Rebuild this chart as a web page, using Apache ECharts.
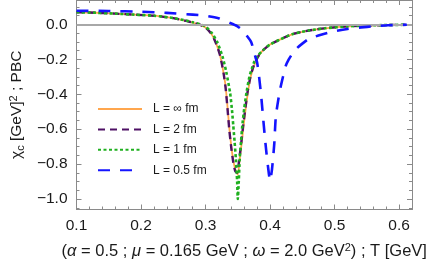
<!DOCTYPE html>
<html>
<head>
<meta charset="utf-8">
<script src="https://cdn.jsdelivr.net/npm/echarts@6/dist/echarts.min.js"></script>
<style>html,body{margin:0;padding:0;background:#fff}#c{width:436px;height:265px}</style>
</head>
<body>
<div id="c"></div>
<script>
var seriesNames = ['L = \u221e fm', 'L = 2 fm', 'L = 1 fm', 'L = 0.5 fm'];
var xTicks = [0.1, 0.2, 0.3, 0.4, 0.5, 0.6];
var yTicks = [-1.0, -0.8, -0.6, -0.4, -0.2, 0.0];
var yMinorTicks = [-1.05, -0.95, -0.9, -0.85, -0.75, -0.7, -0.65, -0.55, -0.5, -0.45, -0.35, -0.3, -0.25, -0.15, -0.1, -0.05, 0.05, 0.1];

var T_inf = [0.10,0.13,0.16,0.19,0.22,0.25,0.27,0.28,0.29,0.30,0.308,0.313,0.318,0.322,0.325,0.328,0.331,0.334,0.337,0.340,0.343,0.347,0.350,0.353,0.356,0.359,0.362,0.366,0.370,0.374,0.378,0.384,0.39,0.40,0.415,0.435,0.46,0.485,0.52,0.56,0.61];
var chi_inf = [0.070,0.067,0.062,0.056,0.050,0.036,0.020,0.011,0.000,-0.018,-0.049,-0.08,-0.125,-0.17,-0.22,-0.28,-0.35,-0.47,-0.60,-0.70,-0.78,-0.84,-0.86,-0.77,-0.68,-0.58,-0.49,-0.38,-0.30,-0.25,-0.21,-0.17,-0.145,-0.115,-0.087,-0.055,-0.035,-0.022,-0.011,-0.005,-0.002];

var T_2 = [0.10,0.13,0.16,0.19,0.22,0.25,0.27,0.28,0.29,0.30,0.308,0.313,0.318,0.322,0.325,0.328,0.331,0.334,0.337,0.340,0.343,0.346,0.349,0.352,0.355,0.358,0.361,0.365,0.369,0.373,0.377,0.383,0.39,0.40,0.415,0.435,0.46,0.485,0.52,0.56,0.61];
var chi_2 = [0.070,0.067,0.062,0.056,0.050,0.036,0.020,0.011,0.000,-0.018,-0.049,-0.08,-0.125,-0.17,-0.22,-0.28,-0.36,-0.48,-0.61,-0.71,-0.79,-0.84,-0.85,-0.78,-0.69,-0.59,-0.50,-0.39,-0.31,-0.255,-0.215,-0.175,-0.145,-0.115,-0.087,-0.055,-0.035,-0.022,-0.011,-0.005,-0.002];

var T_1 = [0.10,0.13,0.16,0.19,0.22,0.25,0.27,0.28,0.29,0.30,0.31,0.318,0.326,0.332,0.338,0.341,0.343,0.345,0.347,0.349,0.350,0.3515,0.353,0.355,0.357,0.360,0.3635,0.368,0.372,0.376,0.381,0.39,0.40,0.415,0.435,0.46,0.485,0.52,0.56,0.61];
var chi_1 = [0.070,0.067,0.062,0.056,0.050,0.037,0.022,0.013,0.003,-0.012,-0.05,-0.10,-0.18,-0.27,-0.39,-0.49,-0.58,-0.67,-0.77,-0.90,-1.00,-0.90,-0.77,-0.67,-0.58,-0.48,-0.39,-0.30,-0.25,-0.21,-0.18,-0.145,-0.115,-0.087,-0.055,-0.035,-0.022,-0.011,-0.005,-0.002];

var T_05 = [0.10,0.15,0.20,0.24,0.28,0.30,0.32,0.33,0.341,0.35,0.356,0.364,0.371,0.376,0.380,0.383,0.386,0.389,0.393,0.397,0.400,0.403,0.4065,0.409,0.415,0.42,0.424,0.429,0.436,0.442,0.45,0.46,0.479,0.498,0.52,0.541,0.56,0.583,0.612];
var chi_05 = [0.078,0.077,0.073,0.066,0.056,0.050,0.036,0.022,0.004,-0.012,-0.03,-0.065,-0.103,-0.17,-0.22,-0.30,-0.40,-0.525,-0.686,-0.82,-0.895,-0.83,-0.686,-0.525,-0.382,-0.30,-0.24,-0.20,-0.16,-0.135,-0.11,-0.083,-0.059,-0.04,-0.026,-0.017,-0.011,-0.005,-0.002];

function zip(a, b) { return a.map(function (v, i) { return [v, b[i]]; }); }

var font = '"Liberation Sans", Arial, sans-serif';
var frameColor = '#8a8a8a';
var txt = '#1a1a1a';
var chart = echarts.init(document.getElementById('c'), null, { renderer: 'canvas' });

function yLab(v) {
  if (Math.abs(v) < 1e-9) return '0.0';
  return (v < 0 ? '\u2212' : '') + Math.abs(v).toFixed(1);
}

var option = {
  animation: false,
  textStyle: { fontFamily: font },
  grid: { left: 71, right: 24, top: 0, bottom: 54, containLabel: false },
  legend: {
    orient: 'vertical', left: 92, top: 98,
    itemWidth: 44, itemHeight: 14, itemGap: 8.4,
    data: seriesNames,
    itemStyle: { opacity: 0 },
    textStyle: { fontSize: 12, color: txt, fontFamily: font, padding: [0, 0, 0, 6] },
    selectedMode: false
  },
  xAxis: [
    {
      type: 'value', position: 'bottom', min: 0.1, max: 0.62, interval: 0.1,
      axisLine: { show: true, onZero: false, lineStyle: { color: frameColor, width: 1 } },
      axisTick: { show: true, inside: true, length: 5, lineStyle: { color: frameColor } },
      minorTick: { show: true, splitNumber: 5, length: 3, lineStyle: { color: frameColor } },
      splitLine: { show: false },
      axisLabel: { color: txt, fontSize: 15.5, margin: 8, formatter: function (v) { return v.toFixed(1); }, fontFamily: font },
      name: '({i|\u03b1} = 0.5 ; {i|\u03bc} = 0.165 GeV ; {i|\u03c9} = 2.0 GeV{sup|2}) ; T [GeV]',
      nameLocation: 'middle', nameGap: 33,
      nameTextStyle: {
        fontSize: 16.5, color: txt, fontFamily: font,
        rich: {
          i: { fontSize: 16.5, fontStyle: 'italic', color: txt, fontFamily: font },
          sup: { fontSize: 11, verticalAlign: 'top', color: txt, fontFamily: font, padding: [0, 0, 7, 0] }
        }
      }
    },
    {
      type: 'value', position: 'top', min: 0.1, max: 0.62, interval: 0.1,
      axisLine: { show: true, onZero: false, lineStyle: { color: frameColor, width: 1 } },
      axisTick: { show: true, inside: true, length: 5, lineStyle: { color: frameColor } },
      minorTick: { show: true, splitNumber: 5, length: 3, lineStyle: { color: frameColor } },
      splitLine: { show: false },
      axisLabel: { show: false }
    }
  ],
  yAxis: [
    {
      type: 'value', position: 'left', min: -1.06, max: 0.14,
      axisLine: { show: true, onZero: false, lineStyle: { color: frameColor, width: 1 } },
      axisTick: { show: true, inside: true, length: 5, customValues: yTicks, lineStyle: { color: frameColor } },
      splitLine: { show: false },
      axisLabel: { color: txt, fontSize: 15.5, margin: 9, customValues: yTicks, formatter: yLab, fontFamily: font },
      name: '\u03c7{sub|c} [GeV]{sup|2} ; PBC',
      nameLocation: 'middle', nameGap: 46, nameRotate: 90,
      nameTextStyle: {
        fontSize: 15.5, color: txt, fontFamily: font,
        rich: {
          sub: { fontSize: 11, verticalAlign: 'bottom', color: txt, fontFamily: font, padding: [4, 0, 0, 0] },
          sup: { fontSize: 11, verticalAlign: 'top', color: txt, fontFamily: font, padding: [0, 0, 7, 0] }
        }
      }
    },
    {
      type: 'value', position: 'left', min: -1.06, max: 0.14,
      axisLine: { show: false },
      axisTick: { show: true, inside: true, length: 3, customValues: yMinorTicks, lineStyle: { color: frameColor } },
      splitLine: { show: false },
      axisLabel: { show: false, customValues: yMinorTicks }
    },
    {
      type: 'value', position: 'right', min: -1.06, max: 0.14,
      axisLine: { show: true, onZero: false, lineStyle: { color: frameColor, width: 1 } },
      axisTick: { show: true, inside: true, length: 5, customValues: yTicks, lineStyle: { color: frameColor } },
      splitLine: { show: false },
      axisLabel: { show: false, customValues: yTicks }
    },
    {
      type: 'value', position: 'right', min: -1.06, max: 0.14,
      axisLine: { show: false },
      axisTick: { show: true, inside: true, length: 3, customValues: yMinorTicks, lineStyle: { color: frameColor } },
      splitLine: { show: false },
      axisLabel: { show: false, customValues: yMinorTicks }
    }
  ],
  series: [
    {
      name: seriesNames[0], type: 'line', data: zip(T_inf, chi_inf), showSymbol: false, symbol: 'none',
      smooth: 0.2, z: 2,
      lineStyle: { color: '#FFA64D', width: 1.8, type: 'solid' },
      itemStyle: { color: '#FFA64D' },
      markLine: {
        silent: true, symbol: 'none', label: { show: false },
        lineStyle: { color: '#a8a8a8', width: 2, type: 'solid' },
        data: [{ yAxis: 0 }]
      }
    },
    {
      name: seriesNames[1], type: 'line', data: zip(T_2, chi_2), showSymbol: false, symbol: 'none',
      smooth: 0.2, z: 3,
      lineStyle: { color: '#4E1065', width: 2.4, type: [7, 5] },
      itemStyle: { color: '#4E1065' }
    },
    {
      name: seriesNames[2], type: 'line', data: zip(T_1, chi_1), showSymbol: false, symbol: 'none',
      smooth: 0.2, z: 4,
      lineStyle: { color: '#1FB01F', width: 2.6, type: [3, 2.5] },
      itemStyle: { color: '#1FB01F' }
    },
    {
      name: seriesNames[3], type: 'line', data: zip(T_05, chi_05), showSymbol: false, symbol: 'none',
      smooth: 0.2, z: 5,
      lineStyle: { color: '#1414FF', width: 2.6, type: [12, 10] },
      itemStyle: { color: '#1414FF' }
    }
  ]
};
chart.setOption(option);
</script>
</body>
</html>
